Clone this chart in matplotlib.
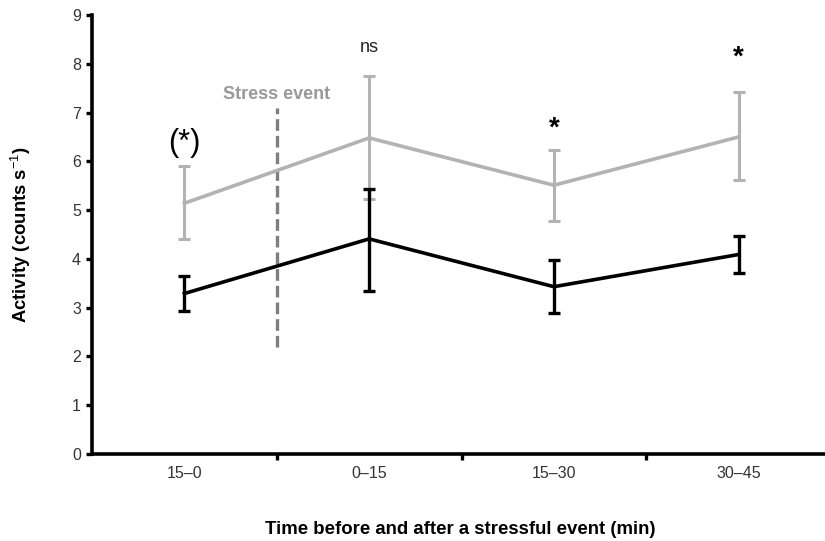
import matplotlib
matplotlib.use("Agg")
import matplotlib.pyplot as plt
import numpy as np
import matplotlib as mpl

mpl.rcParams.update({'font.family': 'Liberation Sans',
                     'mathtext.fontset': 'custom',
                     'mathtext.rm': 'Liberation Sans',
                     'mathtext.bf': 'Liberation Sans:bold'})

periods = ["15\u20130", "0\u201315", "15\u201330", "30\u201345"]

# grey series (mean, upper and lower error bar ends)
grey_mean = [5.14, 6.48, 5.51, 6.50]
grey_hi = [5.90, 7.74, 6.24, 7.42]
grey_lo = [4.40, 5.22, 4.78, 5.61]

# black series
black_mean = [3.29, 4.41, 3.43, 4.09]
black_hi = [3.65, 5.44, 3.97, 4.47]
black_lo = [2.94, 3.35, 2.90, 3.72]

stress_x = 0.5
stress_range = (2.2, 7.1)
marks = ["(*)", "ns", "*", "*"]
mark_y = [6.37, 8.34, 6.68, 8.12]
mark_size = [22, 13, 20, 20]

x = np.arange(len(periods))

fig = plt.figure(figsize=(8.25, 5.41), dpi=100)
ax = fig.add_axes([92 / 825, 87 / 541, 739 / 825, 439 / 541])

g_err = [np.array(grey_mean) - grey_lo, np.array(grey_hi) - grey_mean]
b_err = [np.array(black_mean) - black_lo, np.array(black_hi) - black_mean]

ax.errorbar(x, grey_mean, yerr=g_err, color="#b3b3b3", lw=2.6,
            elinewidth=2.2, capsize=4, capthick=2.2)
ax.errorbar(x, black_mean, yerr=b_err, color="black", lw=2.6,
            elinewidth=2.4, capsize=4, capthick=2.4)

ax.plot([stress_x, stress_x], stress_range, color="#7f7f7f", lw=2.4,
        ls=(0, (3.5, 1.5)))
ax.text(stress_x, stress_range[1] + 0.1, "Stress event", color="#999999",
        fontsize=13, fontweight="bold", ha="center", va="bottom")

for xi, m, my, ms in zip(x, marks, mark_y, mark_size):
    ax.text(xi, my, m, fontsize=ms, ha="center", va="center",
            color="black" if m != "ns" else "#222222",
            fontweight="normal" if m != "*" else "bold")

ax.set_xlim(-0.5, 3.5)
ax.set_ylim(0, 9)
ax.set_yticks(range(10))
ax.set_xticks(x)
ax.set_xticklabels(periods)
ax.set_xticks(x[:-1] + 0.5, minor=True)
ax.tick_params(axis="x", which="major", length=0, pad=9,
               labelsize=11.5, labelcolor="#333333")
ax.tick_params(axis="x", which="minor", length=4, width=2.4, direction="out")
ax.tick_params(axis="y", length=4, width=2.4, pad=4,
               labelsize=11.5, labelcolor="#333333")

for s in ["top", "right"]:
    ax.spines[s].set_visible(False)
for s in ["left", "bottom"]:
    ax.spines[s].set_linewidth(2.6)

fig.text(460 / 825, 1 - 530 / 541,
         "Time before and after a stressful event (min)",
         fontsize=13.4, fontweight="bold", ha="center", va="center")
fig.text(21 / 825, 1 - 235 / 541, r"Activity (counts s$^{-1}$)",
         fontsize=13.3, fontweight="bold", ha="center", va="center",
         rotation=90)

fig.savefig("out.png", dpi=100)
